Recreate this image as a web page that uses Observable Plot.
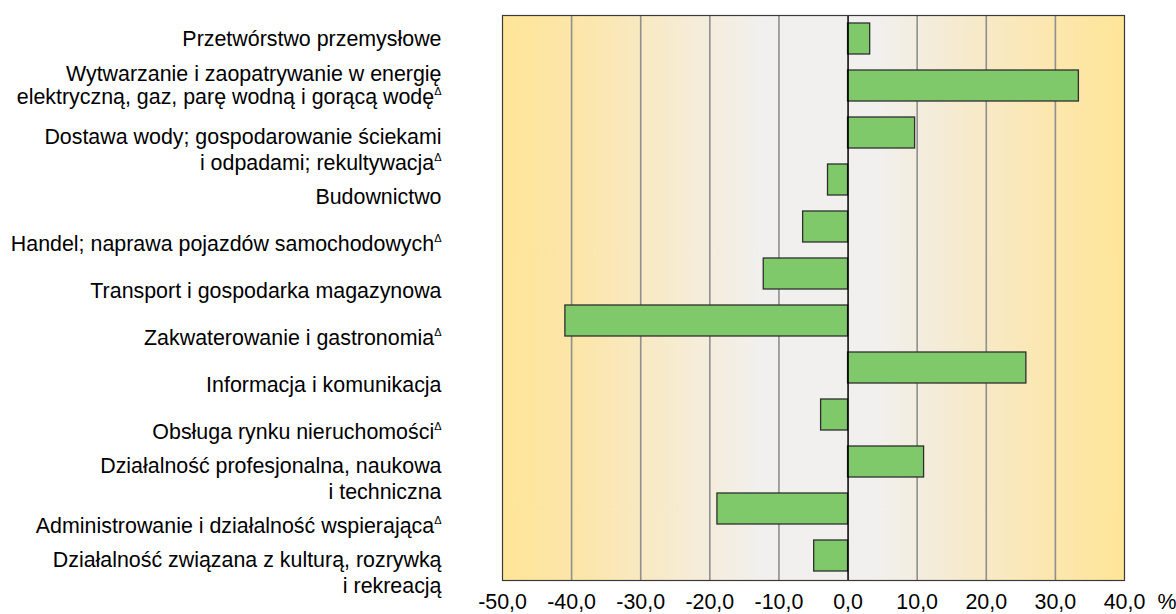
<!DOCTYPE html>
<html><head><meta charset="utf-8">
<script src="https://cdn.jsdelivr.net/npm/d3@7"></script>
<script src="https://cdn.jsdelivr.net/npm/@observablehq/plot@0.6"></script>
<style>body{margin:0;background:#fff}</style>
</head><body><div id="chart"></div>
<script>
const categories = [
  "Przetwórstwo przemysłowe",
  "Wytwarzanie i zaopatrywanie w energię\nelektryczną, gaz, parę wodną i gorącą wodęΔ",
  "Dostawa wody; gospodarowanie ściekami\ni odpadami; rekultywacjaΔ",
  "Budownictwo",
  "Handel; naprawa pojazdów samochodowychΔ",
  "Transport i gospodarka magazynowa",
  "Zakwaterowanie i gastronomiaΔ",
  "Informacja i komunikacja",
  "Obsługa rynku nieruchomościΔ",
  "Działalność profesjonalna, naukowa\ni techniczna",
  "Administrowanie i działalność wspierającaΔ",
  "Działalność związana z kulturą, rozrywką\ni rekreacją"
];
const values = [3.2, 33.4, 9.7, -2.9, -6.5, -12.2, -40.9, 25.8, -3.9, 11.0, -18.9, -4.9];
const xTicks = [-50, -40, -30, -20, -10, 0, 10, 20, 30, 40];
const unitLabel = "%";

const data = categories.map((c, i) => ({name: c, value: values[i], idx: i}));
const fmt = d => d.toFixed(1).replace(".", ",");

const svg = Plot.plot({
  width: 1176,
  height: 614,
  marginLeft: 502,
  marginRight: 52,
  marginTop: 15,
  marginBottom: 34,
  style: {fontFamily: "'Liberation Sans', Arial, sans-serif", fontSize: "21.4px", color: "#000", background: "transparent"},
  x: {domain: [-50, 40], ticks: xTicks, tickFormat: fmt, tickSize: 0, tickPadding: 13, label: null},
  y: {domain: categories, paddingInner: 0.34, paddingOuter: 0.17, axis: null},
  marks: [
    Plot.frame({fill: "url(#bgGrad)", stroke: null}),
    Plot.ruleX(xTicks.filter(d => d !== 0 && d !== -50 && d !== 40), {stroke: "#8f8f8f", strokeWidth: 1.6}),
    Plot.barX(data, {x: "value", y: "name", fill: "#80c96b", stroke: "#2e2e2e", strokeWidth: 1.3}),
    Plot.ruleX([0], {stroke: "#000", strokeWidth: 1.5}),
    Plot.frame({stroke: "#3a3a3a", strokeWidth: 1.2}),
    Plot.text(data.filter(d => d.idx < 2), {y: "name", text: "name", frameAnchor: "left", dx: -61, dy: -1, textAnchor: "end", lineHeight: 1.1, fill: "#000", fontSize: 21.4}),
    Plot.text(data.filter(d => d.idx >= 2), {y: "name", text: "name", frameAnchor: "left", dx: -61, dy: 16, textAnchor: "end", lineHeight: 1.18, fill: "#000", fontSize: 21.4}),
    Plot.text([unitLabel], {frameAnchor: "bottom-right", dx: 33, dy: 13, lineAnchor: "top", textAnchor: "start", fill: "#000", fontSize: 21.4})
  ]
});

// background gradient
const defs = d3.select(svg).insert("defs", ":first-child");
const g = defs.append("linearGradient").attr("id", "bgGrad").attr("x1", 0).attr("x2", 1).attr("y1", 0).attr("y2", 0);
[[0, "#fee597"], [0.14, "#fbe6ad"], [0.3, "#f6ecd6"], [0.42, "#f1f0ee"], [0.6, "#f1f0ee"], [0.72, "#f5ebd3"], [0.86, "#fbe7b3"], [1, "#fee597"]]
  .forEach(([o, c]) => g.append("stop").attr("offset", o).attr("stop-color", c));

// superscript delta markers
svg.querySelectorAll("text").forEach(t => {
  const targets = t.querySelectorAll("tspan").length ? Array.from(t.querySelectorAll("tspan")) : [t];
  targets.forEach(el => {
    const s = el.textContent;
    if (s.endsWith("Δ")) {
      el.textContent = s.slice(0, -1);
      const sup = document.createElementNS("http://www.w3.org/2000/svg", "tspan");
      sup.textContent = "Δ";
      sup.setAttribute("font-size", "11");
      sup.setAttribute("baseline-shift", "9");
      el.appendChild(sup);
    }
  });
});

document.getElementById("chart").appendChild(svg);
</script>
</body></html>
